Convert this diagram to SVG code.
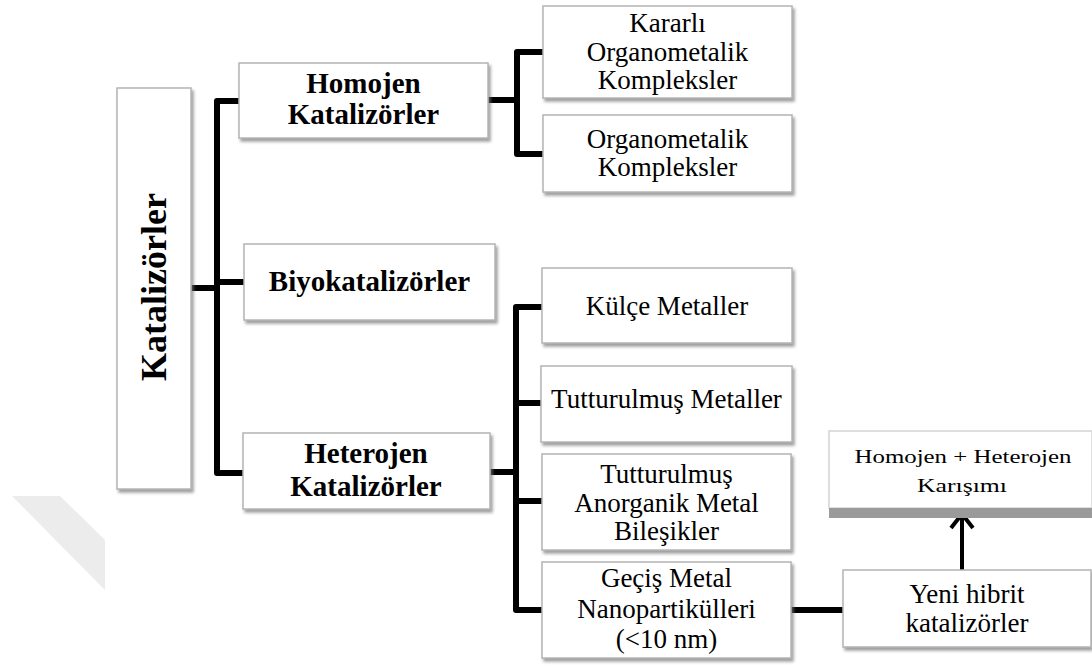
<svg xmlns="http://www.w3.org/2000/svg" width="1092" height="666" viewBox="0 0 1092 666">
<style>
.box{fill:#fff;stroke:#b4b4b4;stroke-width:1.5;filter:url(#sh)}
.b{font-family:"Liberation Serif","Times New Roman",serif;font-weight:bold;font-size:29px;fill:#000;text-anchor:middle}
.r{font-family:"Liberation Serif","Times New Roman",serif;font-size:27px;fill:#000;text-anchor:middle}
.s{font-family:"Liberation Serif","Times New Roman",serif;font-size:18px;fill:#000;text-anchor:middle}
.ln{fill:none;stroke:#000;stroke-width:6;stroke-linejoin:round;stroke-linecap:butt}
</style>
<defs>
<filter id="sh" x="-10%" y="-10%" width="130%" height="140%">
<feDropShadow dx="2" dy="3" stdDeviation="1.5" flood-color="#777" flood-opacity="0.7"/>
</filter>
</defs>
<rect width="1092" height="666" fill="#fff"/>
<polygon points="12,496 60,496 105,540 105,590" fill="#ececec"/>

<g id="connectors">
<path class="ln" d="M191,288 H217"/>
<path class="ln" d="M239,101 H217 V473 H243"/>
<path class="ln" d="M217,282 H244"/>
<path class="ln" d="M488,100 H517"/>
<path class="ln" d="M543,52 H517 V154 H543"/>
<path class="ln" d="M490,472 H516"/>
<path class="ln" d="M542,307 H516 V610 H542"/>
<path class="ln" d="M516,403 H541"/>
<path class="ln" d="M516,501 H542"/>
<path class="ln" d="M791,610 H843"/>
<path fill="none" stroke="#000" stroke-width="4" d="M962,570 V514"/>
<path fill="none" stroke="#000" stroke-width="4" stroke-linejoin="miter" d="M951,528 L962,514 L973,528"/>
</g>

<g id="katalizorler">
<rect class="box" x="117" y="88" width="74" height="401"/>
<text class="b" style="font-size:36px" transform="translate(166,287) rotate(-90)">Katalizörler</text>
</g>
<g id="homojen">
<rect class="box" x="239" y="63" width="249" height="75"/>
<text class="b" x="363.5" y="93">Homojen</text>
<text class="b" x="363.5" y="124">Katalizörler</text>
</g>
<g id="biyo">
<rect class="box" x="244" y="244" width="251" height="76"/>
<text class="b" x="369.5" y="291">Biyokatalizörler</text>
</g>
<g id="heterojen">
<rect class="box" x="243" y="433" width="247" height="76"/>
<text class="b" x="366" y="463">Heterojen</text>
<text class="b" x="366" y="496">Katalizörler</text>
</g>
<g id="kararli">
<rect class="box" x="543" y="6" width="249" height="92"/>
<text class="r" x="667.5" y="32">Kararlı</text>
<text class="r" x="667.5" y="60.5">Organometalik</text>
<text class="r" x="667.5" y="89">Kompleksler</text>
</g>
<g id="organometalik">
<rect class="box" x="543" y="115" width="249" height="77"/>
<text class="r" x="667.5" y="148">Organometalik</text>
<text class="r" x="667.5" y="176">Kompleksler</text>
</g>
<g id="kulce">
<rect class="box" x="542" y="268" width="250" height="75"/>
<text class="r" x="667" y="315">Külçe Metaller</text>
</g>
<g id="tutturulmus">
<rect class="box" x="541" y="366" width="251" height="76"/>
<text class="r" x="666.5" y="408">Tutturulmuş Metaller</text>
</g>
<g id="anorganik">
<rect class="box" x="542" y="454" width="249" height="96"/>
<text class="r" x="666.5" y="483">Tutturulmuş</text>
<text class="r" x="666.5" y="512">Anorganik Metal</text>
<text class="r" x="666.5" y="540">Bileşikler</text>
</g>
<g id="gecis">
<rect class="box" x="542" y="562" width="249" height="96"/>
<text class="r" x="666.5" y="587">Geçiş Metal</text>
<text class="r" x="666.5" y="618">Nanopartikülleri</text>
<text class="r" x="666.5" y="648">(&lt;10 nm)</text>
</g>
<g id="yeni">
<rect class="box" x="843" y="570" width="248" height="77"/>
<text class="r" x="967" y="603">Yeni hibrit</text>
<text class="r" x="967" y="632">katalizörler</text>
</g>
<g id="karisim">
<rect x="829" y="431" width="263" height="77" fill="#fff" stroke="#d4d4d4" stroke-width="1.5"/>
<rect x="829" y="508" width="263" height="10" fill="#9a9a9a"/>
<text class="s" x="963" y="463" textLength="217" lengthAdjust="spacingAndGlyphs">Homojen + Heterojen</text>
<text class="s" x="962" y="492" textLength="90" lengthAdjust="spacingAndGlyphs">Karışımı</text>
</g>
</svg>
